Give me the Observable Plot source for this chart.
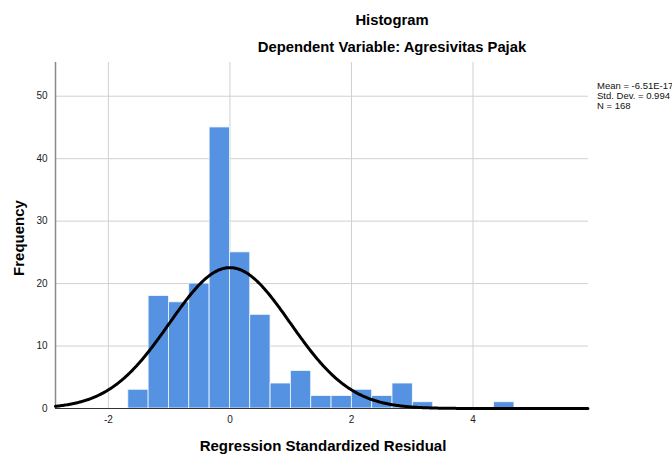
<!DOCTYPE html>
<html><head><meta charset="utf-8">
<script src="https://cdn.jsdelivr.net/npm/d3@7"></script>
<script src="https://cdn.jsdelivr.net/npm/@observablehq/plot@0.6"></script>
<style>
body{margin:0;background:#fff;font-family:"Liberation Sans",Arial,sans-serif;}
#wrap{position:relative;width:672px;height:454px;overflow:hidden;background:#fff;}
#chart{position:absolute;left:0;top:0;}
.t{position:absolute;font-weight:bold;font-size:14.8px;line-height:17px;color:#000;white-space:nowrap;transform:translateX(-50%);}
.leg{position:absolute;left:597px;top:81px;font-size:9.5px;line-height:10px;color:#111;white-space:nowrap;}
.ylab{position:absolute;left:18px;top:238px;font-weight:bold;font-size:15px;white-space:nowrap;transform:translate(-50%,-50%) rotate(-90deg);}
</style></head><body>
<div id="wrap">
<div id="chart"></div>
<div class="t" style="left:392px;top:12px">Histogram</div>
<div class="t" style="left:392px;top:39px">Dependent Variable: Agresivitas Pajak</div>
<div class="t" style="left:323px;top:437px;font-size:15px">Regression Standardized Residual</div>
<div class="ylab">Frequency</div>
<div class="leg">Mean = -6.51E-17<br>Std. Dev. = 0.994<br>N = 168</div>
</div>
<script>
// Histogram bins (lower edges) and counts
const binWidth = 0.3344;
const binLow = [-1.672, -1.338, -1.003, -0.669, -0.334, 0, 0.334, 0.669, 1.003, 1.338, 1.672, 2.006, 2.341, 2.675, 3.010, 4.347];
const counts = [3, 18, 17, 20, 45, 25, 15, 4, 6, 2, 2, 3, 2, 4, 1, 1];
const xTicks = [-2, 0, 2, 4];
const yTicks = [0, 10, 20, 30, 40, 50];
const mean = -6.51e-17, sd = 0.994, n = 168;
const xDomain = [-2.87, 5.9];

const bins = binLow.map((lo, i) => ({x1: lo, x2: lo + binWidth, count: counts[i]}));

// fitted normal curve (as drawn by SPSS from mean, sd, N)
const curve = d3.range(xDomain[0], xDomain[1] + 0.001, 0.02).map(x => ({
  x,
  y: n * binWidth / (sd * Math.sqrt(2 * Math.PI)) * Math.exp(-0.5 * ((x - mean) / sd) ** 2)
}));

const chart = Plot.plot({
  width: 672, height: 454,
  marginLeft: 55, marginRight: 84, marginTop: 62, marginBottom: 46,
  style: {fontFamily: "Liberation Sans, Arial, sans-serif", fontSize: "10px", color: "#222", background: "transparent"},
  x: {domain: xDomain, ticks: xTicks, tickFormat: d => String(d), label: null, tickSize: 0, tickPadding: 7},
  y: {domain: [0, 55.4], ticks: yTicks, tickFormat: d => String(d), label: null, tickSize: 0, tickPadding: 8},
  marks: [
    Plot.ruleX(xTicks, {stroke: "#d0d0d0", strokeWidth: 1}),
    Plot.ruleY(yTicks.filter(d => d > 0), {stroke: "#d0d0d0", strokeWidth: 1}),
    Plot.rectY(bins, {x1: "x1", x2: "x2", y: "count", fill: "#5593e2", stroke: "#f4f7fc", strokeWidth: 0.8}),
    Plot.ruleX([xDomain[0]], {stroke: "#8a8a8a", strokeWidth: 1.5}),
    Plot.ruleY([0], {stroke: "#333", strokeWidth: 1}),
    Plot.line(curve, {x: "x", y: "y", stroke: "#000", strokeWidth: 3})
  ]
});
document.getElementById("chart").appendChild(chart);
</script>
</body></html>
